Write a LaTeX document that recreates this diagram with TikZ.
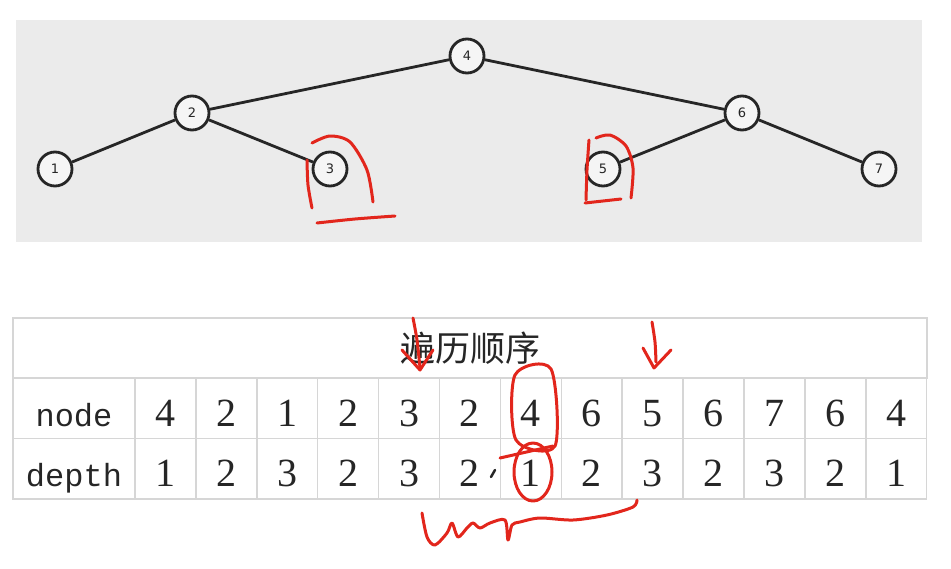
\documentclass[tikz,border=0pt]{standalone}
\usepackage{fontspec}
\usepackage{xcolor}
\setmainfont{Liberation Serif}
\setsansfont{DejaVu Sans}
\setmonofont{Liberation Mono}
\newfontfamily\cjk{Noto Sans CJK SC}
\definecolor{panelGray}{RGB}{235,235,235}
\definecolor{treeDark}{RGB}{38,38,38}
\definecolor{gridGray}{RGB}{214,214,214}
\definecolor{penRed}{RGB}{226,38,28}

\begin{document}
\begin{tikzpicture}[x=1pt, y=-1pt,
    every node/.style={text=treeDark},
    treenode/.style={circle, draw=treeDark, line width=2.8pt, fill=white!96!black,
        minimum size=34pt, inner sep=0pt, font=\sffamily\fontsize{13}{13}\selectfont},
    branch/.style={treeDark, line width=2.8pt},
    cell/.style={draw=gridGray, line width=1.5pt, minimum width=60.9pt,
        minimum height=60.5pt, inner sep=0pt, text height=36pt, text depth=0pt,
        font=\fontsize{40}{40}\selectfont},
    pen/.style={penRed, line width=3pt, line cap=round, line join=round}]
\useasboundingbox (0,0) rectangle (951,568);

% Tree panel
\fill[panelGray] (16,20) rectangle (922,242);
\node[treenode] (n4) at (467,56) {4};
\node[treenode] (n2) at (192,113) {2};
\node[treenode] (n6) at (742,113) {6};
\node[treenode] (n1) at (55,169) {1};
\node[treenode] (n3) at (330,169) {3};
\node[treenode] (n5) at (603,169) {5};
\node[treenode] (n7) at (879,169) {7};
\draw[branch] (n4) -- (n2);
\draw[branch] (n4) -- (n6);
\draw[branch] (n2) -- (n1);
\draw[branch] (n2) -- (n3);
\draw[branch] (n6) -- (n5);
\draw[branch] (n6) -- (n7);

% Traversal table
\node[cell, minimum width=914pt, minimum height=60pt, text height=, text depth=,
    font=\cjk\fontsize{35}{35}\selectfont] (title) at (470,348) {遍历顺序};
\node[cell, minimum width=122pt, font=\ttfamily\fontsize{32}{32}\selectfont]
    (lblNode) at (74,408) {node};
\node[cell, minimum width=122pt, font=\ttfamily\fontsize{32}{32}\selectfont]
    (lblDepth) at (74,468.5) {depth};
\foreach \v [count=\i] in {4,2,1,2,3,2,4,6,5,6,7,6,4}
    \node[cell] (v\i) at ({135+60.9*(\i-0.5)},408) {\v};
\foreach \d [count=\i] in {1,2,3,2,3,2,1,2,3,2,3,2,1}
    \node[cell] (d\i) at ({135+60.9*(\i-0.5)},468.5) {\d};

% Red pen marks
\draw[pen] plot[smooth] coordinates {(307,160) (308,185) (312,208)};
\draw[pen] plot[smooth] coordinates {(312,143) (330,136) (350,142) (367,170) (373,202)};
\draw[pen] plot[smooth] coordinates {(317,223) (355,219) (395,216)};
\draw[pen] plot[smooth] coordinates {(589,140) (587,170) (586,200)};
\draw[pen] plot[smooth] coordinates {(596,138) (610,135) (626,146) (633,168) (631,198)};
\draw[pen] plot[smooth] coordinates {(585,203) (603,201) (621,199)};
\draw[pen] plot[smooth] coordinates {(413,318) (417,340) (420,368)};
\draw[pen] (402,350) -- (420,370) -- (433,350);
\draw[pen] plot[smooth] coordinates {(652,322) (655,342) (656,362)};
\draw[pen] (643,348) -- (654,368) -- (671,350);
\draw[pen] plot[smooth cycle] coordinates {(516,440) (515,375) (551,369) (555,446)};
\draw[pen] (533,472) ellipse [x radius=19pt, y radius=29pt];
\draw[pen] (500,458) -- (553,446);
\draw[treeDark, line width=2.5pt, line cap=round] (491,477) -- (495,470);
\draw[pen] plot[smooth] coordinates {(422,513) (427,537) (435,545) (447,533)
    (452,523) (458,537) (467,528) (473,523) (480,528) (490,523) (505,520)
    (508,540) (512,525) (520,522) (540,518) (573,520) (607,515) (633,507) (637,500)};

\end{tikzpicture}
\end{document}
